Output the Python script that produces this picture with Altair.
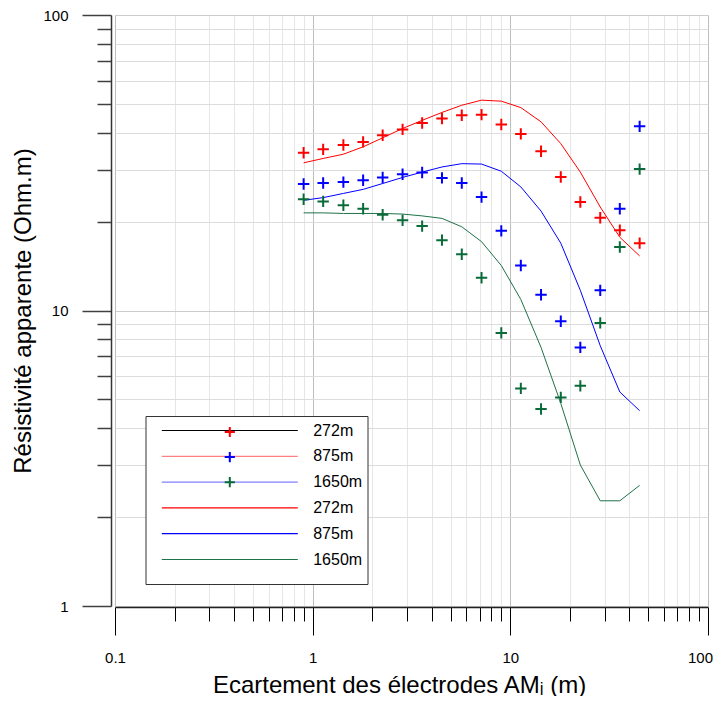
import altair as alt
import pandas as pd

# ---- data ----
spacing = [0.9, 1.13, 1.43, 1.8, 2.26, 2.85, 3.58, 4.51, 5.68, 7.15, 9.0,
           11.3, 14.3, 18.0, 22.6, 28.5, 35.8, 45.1]

rho_272 = [34.2, 35.1, 36.3, 37.2, 39.2, 41.0, 43.1, 44.6, 45.8, 46.0, 42.6,
           39.6, 34.6, 28.3, 23.3, 20.6, 18.7, 16.9]
rho_875 = [26.8, 27.0, 27.2, 27.6, 28.2, 28.9, 29.3, 28.1, 27.0, 24.2, 18.6,
           14.2, 11.3, 9.2, 7.5, 11.7, 22.1, 42.0]
rho_1650 = [23.8, 23.4, 22.7, 22.1, 21.1, 20.2, 19.3, 17.3, 15.5, 12.9, 8.4,
            5.45, 4.64, 5.08, 5.56, 9.08, 16.4, 30.1]

model_272 = [31.6, 32.7, 33.8, 35.8, 38.4, 41.3, 44.0, 46.8, 49.5, 51.5, 51.1,
             48.6, 43.5, 36.7, 29.4, 22.4, 17.7, 15.3]
model_875 = [23.6, 24.1, 24.9, 25.7, 26.9, 28.2, 29.4, 30.6, 31.4, 31.3, 29.6,
             26.2, 21.7, 16.9, 11.7, 7.6, 5.3, 4.58]
model_1650 = [21.4, 21.4, 21.3, 21.3, 21.3, 21.2, 20.9, 20.5, 19.2, 17.1, 14.2,
              10.9, 7.5, 4.85, 3.0, 2.27, 2.27, 2.56]

meas_keys = ["272m", "875m", "1650m"]
meas_colors = ["#ff0000", "#0000ff", "#0a6b3a"]

# legend rows: key -> shown label is the key without its first character
legend_keys = ["a272m", "b875m", "c1650m", "d272m", "e875m", "f1650m"]
legend_colors = ["#000000", "#ff8080", "#8080ff"]
model_keys = ["d272m", "e875m", "f1650m"]
model_colors = ["#ff0000", "#0000ff", "#1e7248"]

x_ticks = [0.1, 0.2, 0.3, 0.4, 0.5, 0.6, 0.7, 0.8, 0.9,
           1, 2, 3, 4, 5, 6, 7, 8, 9,
           10, 20, 30, 40, 50, 60, 70, 80, 90, 100]
y_ticks = [1, 2, 3, 4, 5, 6, 7, 8, 9,
           10, 20, 30, 40, 50, 60, 70, 80, 90, 100]

# ---- tables ----
meas_rows = []
for key, vals in zip(meas_keys, [rho_272, rho_875, rho_1650]):
    for xv, yv in zip(spacing, vals):
        meas_rows.append({"x": xv, "rho": yv, "mesure": key})
meas_df = pd.DataFrame(meas_rows)

model_rows = []
for key, vals in zip(model_keys, [model_272, model_875, model_1650]):
    for xv, yv in zip(spacing, vals):
        model_rows.append({"x": xv, "rho": yv, "modele": key})
model_df = pd.DataFrame(model_rows)

FONT = "Liberation Sans"
x_dec = "indexof([0.1, 1, 10, 100], datum.value) >= 0"
y_dec = "indexof([1, 10, 100], datum.value) >= 0"

x_axis = alt.Axis(
    values=x_ticks, format="~g",
    labelExpr=f"({x_dec}) ? datum.label : ''",
    tickSize={"condition": {"test": x_dec, "value": 28}, "value": 14},
    tickColor="#000000", tickWidth=1,
    domainColor="#222222", domainWidth=1.5,
    grid=True,
    gridColor={"condition": {"test": x_dec, "value": "#bdbdbd"}, "value": "#e6e6e6"},
    gridWidth=1,
    offset=1,
    labelFontSize=15, labelPadding=15, labelColor="#000000",
    labelOffset={"condition": {"test": "datum.value == 100", "value": -8}, "value": 0},
    labelFlush=False, labelOverlap=False,
    title="Ecartement des électrodes AMᵢ (m)",
    titleFontSize=24, titleFontWeight="normal", titleColor="#000000",
    titleX=284, titleY=85, titleAlign="center", titleBaseline="alphabetic",
)

y_axis = alt.Axis(
    values=y_ticks, format="~g",
    labelExpr=f"({y_dec}) ? datum.label : ''",
    tickSize={"condition": {"test": y_dec, "value": 29}, "value": 14},
    tickColor="#404040", tickWidth=1.5,
    domainColor="#333333", domainWidth=1.5,
    grid=True,
    gridColor={"condition": {"test": y_dec, "value": "#cccccc"}, "value": "#dcdcdc"},
    gridWidth=1,
    offset=4,
    labelFontSize=15, labelPadding=14, labelColor="#000000",
    labelFlush=False, labelOverlap=False,
    title="Résistivité apparente (Ohm.m)",
    titleFontSize=24, titleFontWeight="normal", titleColor="#000000",
    titlePadding=7,
)

x_enc = alt.X("x:Q", scale=alt.Scale(type="log", domain=[0.1, 100], nice=False), axis=x_axis)
y_enc = alt.Y("rho:Q", scale=alt.Scale(type="log", domain=[1, 100], nice=False), axis=y_axis)

LEG_X = 30.5
LEG_Y = 401
LEG_PAD = 5
SYM_OFF = 69.8
LAB_OFF = 73.9

common_legend = dict(
    orient="none", legendX=LEG_X, direction="vertical",
    padding=LEG_PAD, symbolSize=289, symbolFillColor="transparent",
    symbolOffset=SYM_OFF, labelOffset=LAB_OFF,
    labelFontSize=16, labelFont=FONT, labelLimit=0,
)

lines = alt.Chart(model_df).mark_line(strokeWidth=1).encode(
    x=x_enc, y=y_enc,
    color=alt.Color(
        "modele:N",
        scale=alt.Scale(domain=legend_keys, range=legend_colors + model_colors),
        legend=alt.Legend(
            legendY=LEG_Y, rowPadding=-1.2,
            title=" ", titleOrient="bottom", titleFontSize=6, titlePadding=1,
            strokeColor="#333333", fillColor="#ffffff",
            symbolType="M0,-1.247M0,1.247M-8,0H8", symbolStrokeWidth=1.2,
            labelColor="#000000",
            labelExpr="substring(datum.label, 1)",
            **common_legend,
        ),
    ),
)

points = alt.Chart(meas_df).mark_point(
    shape="M-1,0H1M0,-1V1", size=130, strokeWidth=2, filled=False, opacity=1
).encode(
    x=x_enc, y=y_enc,
    stroke=alt.Stroke(
        "mesure:N",
        scale=alt.Scale(domain=meas_keys, range=meas_colors),
        legend=alt.Legend(
            legendY=LEG_Y + 1.5, rowPadding=-3.9,
            title=None,
            strokeColor="transparent", fillColor="transparent",
            symbolType="M0,-1.2M0,1.2M-0.6,0H0.6M0,-0.6V0.6", symbolStrokeWidth=2,
            labelExpr="''",
            **common_legend,
        ),
    ),
)

chart = alt.layer(lines, points).properties(
    width=593, height=591,
    autosize=alt.AutoSizeParams(type="none"),
    padding={"left": 107, "top": 7, "right": 5, "bottom": 90},
).configure(
    font=FONT,
).configure_view(
    strokeWidth=0,
).configure_axis(
    labelFont=FONT, titleFont=FONT,
)

chart.save("out.html", embed_options={"renderer": "svg", "actions": False})
